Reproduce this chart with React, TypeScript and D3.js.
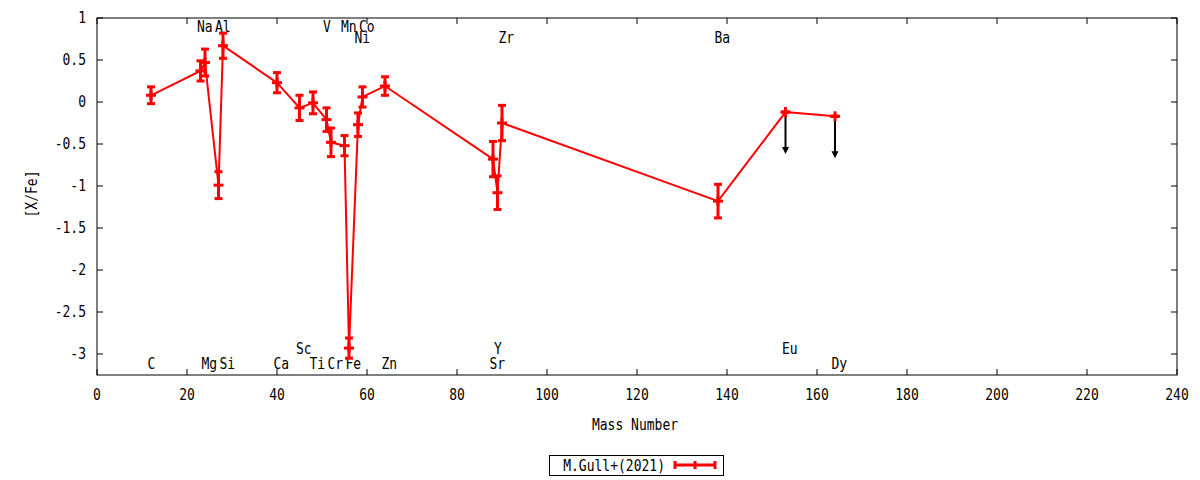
import React from 'react';
import * as d3 from 'd3';

const elements = ['C', 'Na', 'Mg', 'Al', 'Si', 'Ca', 'Sc', 'Ti', 'V', 'Cr', 'Mn', 'Fe', 'Ni', 'Co', 'Zn', 'Sr', 'Y', 'Zr', 'Ba', 'Eu', 'Dy'];
const massNumbers = [12, 23, 24, 27, 28, 40, 45, 48, 51, 52, 55, 56, 58, 59, 64, 88, 89, 90, 138, 153, 164];
const xFeValues = [0.08, 0.37, 0.47, -0.99, 0.67, 0.23, -0.07, -0.01, -0.21, -0.48, -0.52, -2.93, -0.27, 0.06, 0.19, -0.68, -1.08, -0.25, -1.18, -0.12, -0.17];
const xFeErrors = [0.10, 0.12, 0.16, 0.16, 0.15, 0.12, 0.15, 0.13, 0.14, 0.17, 0.12, 0.12, 0.14, 0.12, 0.11, 0.21, 0.20, 0.21, 0.20, 0, 0];
const upperLimits = [false, false, false, false, false, false, false, false, false, false, false, false, false, false, false, false, false, false, false, true, true];
// label row of each element name: 't' top, 't2' second top, 'b2' upper bottom, 'b' bottom
const labelRows = ['b', 't', 'b', 't', 'b', 'b', 'b2', 'b', 't', 'b', 't', 'b', 't2', 't', 'b', 'b', 'b2', 't2', 't2', 'b2', 'b'];
const xTickValues = [0, 20, 40, 60, 80, 100, 120, 140, 160, 180, 200, 220, 240];
const yTickValues = [1, 0.5, 0, -0.5, -1, -1.5, -2, -2.5, -3];
const seriesName = 'M.Gull+(2021)';
const xTitle = 'Mass Number';
const yTitle = '[X/Fe]';
const limitArrowLength = 0.5;

const FONT = '"DejaVu Sans Mono", monospace';
const RED = '#ff0000';

function T({ x, y, anchor = 'start', rotate = 0, children }: { x: number; y: number; anchor?: string; rotate?: number; children: any }) {
  return (
    <text
      transform={`translate(${x},${y}) rotate(${rotate}) scale(0.93,1.08)`}
      textAnchor={anchor}
      dominantBaseline="central"
    >
      {children}
    </text>
  );
}

export default function App() {
  const W = 1200;
  const H = 480;
  const left = 97, right = 1177, top = 18, bottom = 375;
  const x = d3.scaleLinear().domain([0, 240]).range([left, right]);
  const y = d3.scaleLinear().domain([-3.25, 1]).range([bottom, top]);

  const rowY: Record<string, number> = { t: 0.9, t2: 0.77, b2: -2.94, b: -3.12 };

  const pts = massNumbers.map((m, i) => ({
    el: elements[i], m, v: xFeValues[i], e: xFeErrors[i], lim: upperLimits[i], row: labelRows[i],
  }));

  const line = d3.line<any>().x((d) => x(d.m)).y((d) => y(d.v));
  const tickLen = 6;
  const capW = 4;

  return (
    <svg width={W} height={H} style={{ position: 'absolute', left: 0, top: 0, background: '#fff' }}
      fontFamily={FONT} fontSize={14}>
      <rect x={0} y={0} width={W} height={H} fill="#fff" />
      {/* ticks */}
      {xTickValues.map((t) => (
        <g key={'xt' + t}>
          <line x1={x(t)} x2={x(t)} y1={bottom} y2={bottom - tickLen} stroke="#000" />
          <line x1={x(t)} x2={x(t)} y1={top} y2={top + tickLen} stroke="#000" />
          <T x={x(t)} y={395} anchor="middle">{t}</T>
        </g>
      ))}
      {yTickValues.map((t) => (
        <g key={'yt' + t}>
          <line x1={left} x2={left + tickLen} y1={y(t)} y2={y(t)} stroke="#000" />
          <line x1={right} x2={right - tickLen} y1={y(t)} y2={y(t)} stroke="#000" />
          <T x={86} y={y(t)} anchor="end">{String(t)}</T>
        </g>
      ))}
      <rect x={left} y={top} width={right - left} height={bottom - top} fill="none" stroke="#000" strokeWidth={1} />

      {/* axis titles */}
      <T x={635} y={425} anchor="middle">{xTitle}</T>
      <T x={32} y={194} anchor="middle" rotate={-90}>{yTitle}</T>

      {/* element labels */}
      {pts.map((p) => (
        <T key={'lab' + p.el} x={x(p.m) - 3.5} y={y(rowY[p.row])}>{p.el}</T>
      ))}

      {/* upper limit arrows */}
      {pts.filter((p) => p.lim).map((p) => {
        const x0 = x(p.m);
        const y0 = y(p.v);
        const y1 = y(p.v - limitArrowLength);
        return (
          <g key={'arr' + p.el}>
            <line x1={x0} x2={x0} y1={y0} y2={y1 - 5} stroke="#000" strokeWidth={2} />
            <path d={`M${x0 - 3.5},${y1 - 7} L${x0 + 3.5},${y1 - 7} L${x0},${y1} Z`} fill="#000" />
          </g>
        );
      })}

      {/* connecting line */}
      <path d={line(pts) || ''} fill="none" stroke={RED} strokeWidth={2} />

      {/* error bars and markers */}
      {pts.map((p) => {
        const cx = x(p.m);
        const cy = y(p.v);
        const y1 = y(p.v + p.e);
        const y2 = y(p.v - p.e);
        return (
          <g key={'pt' + p.el} stroke={RED} strokeWidth={3}>
            <line x1={cx} x2={cx} y1={y1 - 1} y2={y2 + 1} />
            <line x1={cx - capW} x2={cx + capW} y1={y1} y2={y1} />
            <line x1={cx - capW} x2={cx + capW} y1={y2} y2={y2} />
            <line x1={cx - 5} x2={cx + 5} y1={cy} y2={cy} />
            <line x1={cx} x2={cx} y1={cy - 5} y2={cy + 5} />
          </g>
        );
      })}

      {/* legend */}
      <rect x={549.5} y={455.5} width={174} height={20} fill="#fff" stroke="#000" strokeWidth={1} />
      <T x={665} y={465.5} anchor="end">{seriesName}</T>
      <g stroke={RED} strokeWidth={3}>
        <line x1={675} x2={715} y1={465} y2={465} />
        <line x1={675} x2={675} y1={461} y2={469} />
        <line x1={715} x2={715} y1={461} y2={469} />
        <line x1={695} x2={695} y1={461} y2={469} />
      </g>
    </svg>
  );
}
